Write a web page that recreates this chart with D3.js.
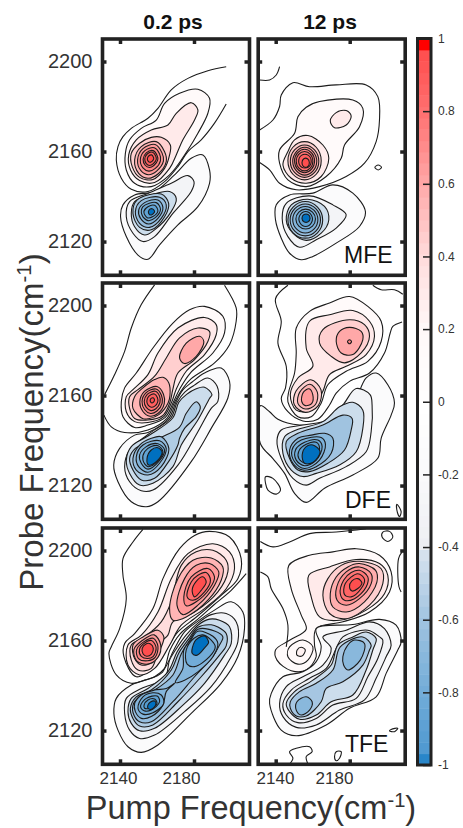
<!DOCTYPE html>
<html>
<head>
<meta charset="utf-8">
<script src="https://cdn.jsdelivr.net/npm/d3@7"></script>
<style>
html, body { margin: 0; padding: 0; background: #fff; }
svg { display: block; font-family: "Liberation Sans", Arial, sans-serif; }
</style>
</head>
<body>
<div id="chart"></div>
<script>
// contour lines.
// ring = [level, pump, probe, pump, probe, ...], wavenumbers minus 2100 cm-1
var columnTitles = ["0.2 ps", "12 ps"];
var rowNames = ["MFE", "DFE", "TFE"];
var pumpTicks = [2140, 2180];
var probeTicks = [2120, 2160, 2200];
var barTicks = [-1, -0.8, -0.6, -0.4, -0.2, 0, 0.2, 0.4, 0.6, 0.8, 1];
var colorStops = [-1, -0.971, -0.8, -0.6, -0.4, -0.39, -0.2, 0, 0.2, 0.4, 0.6, 0.8, 0.97, 0.971, 1];
var colorValues = ["#0070c0", "#4d98d0", "#72acd8", "#a0c3e0", "#dbe5f0", "#eeeff3", "#f9f9fb", "#ffffff", "#fff8f8", "#ffdcdc", "#ffa8a8", "#ff7070", "#ff4c4c", "#ff0000", "#ff0000"];

var mfeEarlyOpen = [
    [97.4,97.7,87.5,95.9,76.7,92.5,67.7,87.4,60.5,79.2,55.1,74.8,46.1,70.3,41.6,66.6,38.9,62.2,38,56.2,40.7,48.1,46.1,43.2,55.1,42.2,64.1,46.6,71.3,53.3,76.7,60,83.9,65.2,91.1,72.6,97.4,81.1]
];
var mfeEarlyRings = [
    [0.15,82.1,87.7,88.4,83.7,87.5,77,82.1,68.1,76.7,60.7,66.8,49.6,56.9,44.4,47.9,45.9,43.4,51.8,42.9,59.2,45.2,65.2,51.5,70.3,59.6,74,64.1,81.4,72.2,85.9],
    [0.3,78.5,81.7,82.1,78.5,80.3,74,74,65.2,70.4,58.5,66.8,52.5,58.7,46.2,50.6,47.1,45.7,51.8,44.7,58.5,48.8,65.2,56.9,69.6,65.9,71.8,70.4,77],
    [0.45,62.3,66.3,67.2,62.9,66.8,58.5,64.1,52.5,57.8,47.6,50.6,48.5,46.6,53.3,46.1,59.2,50.6,63.7,56.9,66.3],
    [0.55,59.6,64.4,64.1,59.9,65,55.5,60.5,50,55.1,48.1,50.1,50.3,47.9,56.2,51.5,62.2],
    [0.65,59,63.1,62.7,59.4,63.5,55.8,59.8,51.3,55.4,49.7,51.3,51.5,49.5,56.3,52.4,61.3],
    [0.72,58.5,61.7,61.4,58.9,61.9,56,59.1,52.5,55.6,51.3,52.4,52.7,51,56.5,53.3,60.3],
    [0.8,57.9,60.4,60,58.3,60.4,56.3,58.3,53.8,55.9,52.9,53.6,53.9,52.5,56.6,54.2,59.4],
    [0.88,57.6,59.7,59.3,58,59.6,56.5,57.9,54.5,56,53.8,54.2,54.6,53.4,56.7,54.7,58.9],
    [0.96,57.1,58.5,58,57.6,58.2,56.7,57.3,55.6,56.2,55.2,55.2,55.7,54.8,56.8,55.5,58],
    [-0.15,84.8,58.5,88.4,51.8,88.4,45.9,82.1,35.5,71.3,27.4,61.4,18.5,55.1,12.1,49.7,14,43.4,22.2,40.3,31,41.6,36.3,47.9,40.7,58.7,42.2,69.5,49.6,78.5,57],
    [-0.3,76.7,49.3,80,46.6,78.5,42.2,68.6,32.5,58.7,22.2,52.4,20,47,23.7,43.4,31,45.2,37.7,55.1,41.4,67.7,45.9],
    [-0.45,66.8,42.2,70.4,39.2,67.7,33.3,58.7,25.2,53.3,22.9,47.9,26.6,46.1,32.5,47.9,37.7,56.9,40.7],
    [-0.55,62.3,41.1,66.3,37,64.1,31,56.9,25.2,50.6,26.3,47,32.5,49.3,38.5],
    [-0.65,61.4,39.7,65,36.3,62.3,30.3,56,26.3,50.6,28.1,48.3,33.3,51.5,38.2],
    [-0.72,60.5,38.5,63.2,35.2,60.5,30.3,55.5,27.8,51.1,30.3,50.1,34,53.3,37.3],
    [-0.8,59.6,37.3,61.9,34.3,59.1,30.6,55.1,29.3,51.9,31.8,52.4,35.5],
    [-0.88,58.7,36.1,60.5,33.6,57.8,31.1,54.7,30.6,52.9,33.3,55.1,35.5],
    [-1,57.4,34.6,58.7,33.3,56.9,31.8,55.5,32.5,55.7,34]
];

var mfeLateOpen = [
    [31.3,91.8,36.7,91.8,40.3,94,42.1,97.7],
    [31.3,69.6,38.5,74,42.1,80,43,85.1,49.3,90.6,58.3,88.8,72.7,89.6,88.9,89.6,95.2,84.4,96.1,74,94.3,64.4,88,54.8,78.1,48.9,63.7,44.4,51.1,43,42.1,45.9,36.7,51.8,31.3,55.1]
];
var mfeLateRings = [
    [0.15,56.5,79.7,63.7,82.2,81.7,82.9,87.1,79.2,85.3,71,77.2,62.9,75.4,57,67.3,48.9,56.5,44.4,46.6,47.4,42.1,54.8,42.1,60.7,50.2,68.1,52,75.5],
    [0.3,78.1,78.2,80.8,75.8,78.1,71.8,71.8,70.6,69.5,73.7,72.7,77.3],
    [0.3,57.4,67.1,65.5,62.9,68.7,57,64.6,48.9,56.5,45.9,48.4,48.1,43.9,54,46.6,60,50.2,65.2],
    [0.45,55.6,64.4,61.9,61.9,64.6,55.9,61.9,49.9,55.6,47.4,49.3,49.9,46.6,55.9,49.3,61.9],
    [0.55,55.6,62.9,61,60.7,63.3,55.7,61,50.7,55.6,48.5,50.2,50.7,47.9,55.7,50.2,60.7],
    [0.65,55.7,61.9,60.2,60,62.2,55.7,60.2,51.4,55.7,49.5,51.2,51.4,49.2,55.7,51.2,60],
    [0.72,55.6,61,59.4,59.4,61,55.8,59.4,52.2,55.6,50.6,51.8,52.2,50.2,55.8,51.8,59.4],
    [0.8,55.6,60,58.8,58.7,60.1,55.7,58.8,52.7,55.6,51.4,52.4,52.7,51.1,55.7,52.4,58.7],
    [0.88,57.5,58.4,59.2,55.7,57.5,53,54.1,53,52.4,55.7,54.1,58.4],
    [0.96,57.2,56.8,58.2,55,57.2,53.2,55.2,53.2,54.2,55,55.2,56.8],
    [-0.15,70.9,45.2,81.7,41.5,88.5,33.3,85.3,26.7,72.7,19.3,60.1,13.4,53.8,11.9,47.5,14.8,43,21.5,39.9,29.6,40.3,36.3,47.5,40.7,60.1,41.5],
    [-0.3,58.3,40.3,70.9,36.3,78.1,31.9,72.7,26,61.9,20.8,52.9,17.5,46.6,22.2,43.5,30.4,45.7,37],
    [-0.45,57.4,38.8,66.4,35.6,68.7,29.6,64.6,23.7,56.5,20.5,49.3,23.7,45.7,29.6,48.4,36.3],
    [-0.55,56,37.8,62.6,35.3,65.4,29.6,62.6,23.9,56,21.5,49.4,23.9,46.6,29.6,49.4,35.3],
    [-0.65,56,36.7,61.7,34.6,64.2,29.6,61.7,24.6,56,22.5,50.3,24.6,47.8,29.6,50.3,34.6],
    [-0.72,56,35.6,60.8,33.8,62.8,29.7,60.8,25.6,56,23.8,51.2,25.6,49.2,29.7,51.2,33.8],
    [-0.8,56.2,34.4,59.9,33.1,61.5,30,59.9,26.9,56.2,25.6,52.5,26.9,50.9,30,52.5,33.1],
    [-0.88,58,32.9,59.9,30,58,27.1,54.4,27.1,52.5,30,54.4,32.9],
    [-1,57.5,32,58.6,30.4,57.5,28.8,55.3,28.8,54.2,30.4,55.3,32],
    [0,95.4,54,97.2,53,95.4,51.8,93.6,53]
];

var dfeEarlyOpen = [
    [58.7,109.2,51.5,100.4,46.1,90,42.5,79.6,37.1,69.3,31.7,60.4],
    [96.5,109,102.8,98.9,102.8,93,99.2,82.6,91.1,74.5,78.5,67.5,73,62,69.5,57,65.5,50,55.1,44.7,42.5,43.6,35.3,46.1,31.3,51.3]
];
var dfeEarlyRings = [
    [0.15,85.7,99.6,95.6,95.2,96.5,87.8,90.2,78.9,78,70,72,62.5,68.8,57,64.5,50.3,55.1,46.9,47.9,45.8,41.6,50.6,40.7,57.2,42.5,63.4,48.8,70,57.8,81.1,68.6,92.2,77.6,98.1],
    [0.3,85.7,94.7,92,91.5,92,87,85.7,78.2,76,71,70.5,63,67.9,57,63.5,50.5,55.1,48,47.9,48.4,43.4,52.8,43.4,59.5,47,62.6,55.1,69.3,60.5,78.9,71.3,90],
    [0.45,82.1,90,88.4,88.5,87.5,84,80.3,76,71.3,70,68.5,62.5,67,57,63,51,55,49.1,47.9,49.8,45.2,54.3,45.2,59.5,49.7,62.6,58.7,68.6,65,76.7,72.2,85.6],
    [0.6,83,86.3,85.3,84,81.2,77.4,74.9,74.2,72.2,76.7,75.8,83.3],
    [0.55,63.2,68.1,66.4,65.6,67,60,66,56.7,61,51.5,55.5,49.7,52.4,49.7,47,54.3,47.9,59.5,52.4,63.4,58.7,67.1],
    [0.65,60,64,63.5,60.6,63.9,56.3,60.5,52,56.2,50.8,52.4,52.9,50.7,57.1,53.2,61.8],
    [0.72,59.5,62.9,62.4,60.1,62.8,56.6,60,53.1,56.5,52,53.3,53.8,51.9,57.3,54,61.2],
    [0.8,59.1,61.9,61.4,59.7,61.6,56.9,59.4,54.1,56.7,53.3,54.2,54.7,53.1,57.4,54.7,60.5],
    [0.88,58.6,60.7,60.2,59.1,60.4,57.2,58.8,55.3,56.9,54.8,55.2,55.7,54.5,57.6,55.6,59.7],
    [0.96,57.9,59,58.5,58.5,58.6,57.7,58,57,57.3,56.7,56.6,57.1,56.3,57.8,56.8,58.7],
    [-0.15,94.7,72.2,99.2,66.3,98.3,58.9,89.3,45.4,78.5,30.6,60.5,12.8,54.2,10.6,46.1,12.8,38.9,21.7,36.6,29.1,39.8,36.5,47.9,42.4,55.1,43.6,66.5,50,70.2,57,74,62.5,79,66,85.7,70],
    [-0.3,87.5,67.8,92.5,64.1,92.9,57.4,89.3,54.3,82.1,43.9,71.3,29.1,57.8,18,51.5,17.7,45.2,21.7,42.5,28.4,45.2,35.8,55.1,42.7,67.5,50,70.9,57,75,61.5,80,64.5],
    [-0.45,85.7,63.7,89.7,60.4,88.4,58.7,82.1,49.1,73.1,38,68.6,28.4,57.8,21,50.6,20.2,45.2,25.4,43.4,31.3,46.1,37.3,55.1,42,68.5,50,71.8,57,76,60.5,81.2,63],
    [-0.55,81.2,57.2,83.4,55,81.2,50.6,74.9,45.4,72.2,41,71.3,38,66.8,31.3,58.7,23.2,51.5,22.5,47,26.9,45.2,32,48.3,36.5,62.3,41.5,72.2,46,75.8,52.1],
    [-0.65,62.3,41.7,66.4,36.5,62.3,28.4,55.1,24.7,48.8,26.9,47,32,50.6,38,56.9,41],
    [-0.72,61.4,39.9,65,36.5,61.4,29.9,55.1,25.9,50.1,28.4,48.8,32.8,52.4,38],
    [-0.8,60.5,38.6,64.1,35.8,60.9,30.6,55.1,27.3,51.5,29.9,50.6,33.6,54.2,37.3],
    [-0.88,60.5,37.7,63.2,35,60.1,30.6,55.1,28.4,52.4,31.3,53.3,35,56.9,37.3],
    [-1,60.5,36.8,62.8,34.7,59.6,30.6,55.5,29.1,54.6,32,56.9,35.8]
];

var dfeLateOpen = [
    [46.6,109,39.9,103,43,93,41.2,83.3,45.7,73,45.3,63.4,43,58.7,46.6,52.8,54.7,48.7,62.8,49.5,69.1,55.8,72.7,61.1,79.9,66.3,90.7,70,98.8,78.9,101.9,87.8,103.3,90.7,108.3,92.7],
    [92.5,109,97,107,104.2,107,108.7,105]
];
var dfeLateRings = [
    [0.15,79.9,104,89.8,99.6,97,93,97,84,89.8,75.2,78.1,70.8,68.2,64.8,64.6,56.7,59.2,50.6,52,50.6,46.6,57.2,47.1,61.9,50.2,70,51.1,78.9,51.1,90,58.3,97.4,69.1,101.1],
    [0.3,81.7,97.8,90.7,93,93.4,86.3,88.9,78.2,78.1,73,69.1,69.3,65.5,61.9,59.2,53.5,51.1,53.5,47.9,60.4,52,67.8,60.1,73,56.5,81.1,58.3,93,69.1,95.9],
    [0.45,79.9,93.7,88,91.5,90.7,86.3,86.2,78.9,77.2,74.5,70,77.4,63.7,83.3,65.5,89.3],
    [0.6,79.9,90.3,86.2,88.5,87.1,84.8,81.7,78.2,75.4,78.9,72.7,84.1,74.5,88.5],
    [0.72,79.9,84.8,81,83.9,79.9,83,78.8,83.9],
    [0.45,59,67,64.5,62.5,63,55.5,56,52.5,50,56,51,62],
    [0.55,58.5,65,62.5,61.5,61.5,56,56,54,52,56.5,53,61.5],
    [0.65,58,63,60,60.5,59.5,56.5,56,55.5,54,57.5,55,61.5],
    [-0.15,88.9,67.8,94.3,70,100.6,64.8,104.2,56.7,102.4,51.3,97,41,95.2,32.1,81.7,24.7,66.4,18.8,56.5,12.5,50.2,16.5,44.8,25.4,38.5,32,31.7,38.7,31.7,55.5,36.7,52.8,41.2,49.5,52.9,46.9,66.4,47.6,74.5,51.3,81.7,55.8],
    [-0.3,83.5,63.1,91,60.4,92.1,55.8,91.6,43.9,88.9,35,78.1,28.4,63.7,23.2,56.5,20.2,49.3,23.2,43,32,40.7,40.2,43,44.7,54.7,46.9,68.2,49.1,76.3,55.8],
    [-0.45,81.7,57,87.1,53.5,87.1,45.4,83.5,35,74.5,29.1,61.9,25.4,54.7,24,48.4,26.9,43.9,34.3,44.8,41.7,51.1,44.7,65.5,48.4,74.5,55],
    [-0.6,76.3,51.3,81.3,49.8,80.8,44.7,77.2,35.8,68.2,29.9,58.3,26.2,52,26.9,47.5,32,45.7,39.5,52,43.2,65.5,46.9],
    [-0.7,66.4,43.2,70.9,41,70,34.3,61.9,28.4,54.7,26.9,49.3,29.9,47.5,35.8,52,41,59.2,42.4],
    [-0.76,64.6,41.3,66.9,38.3,63.7,31.3,55.6,27.6,50.2,30.6,48.8,35.8,53.8,40.2],
    [-0.82,62.8,40.2,65.1,37.3,61.9,31.3,55.6,28.8,51.1,31.3,50.7,35.8,55.6,39.2],
    [-0.9,61.9,39.2,63.7,36.5,61,32,56.1,29.9,52.5,32,52.5,35.3,56.5,38.3],
    [-1,60.1,38,64,35,60.1,30.2,55.6,29.9,54.3,33.6,56.5,37.3],
    [0,34.5,23.9,38.5,23.2,42.6,18,40.3,16.2,35.8,18,34.5,21],
    [0,105.5,11.7,107.8,8.4,106.9,6.2,105.5,9.1]
];

var tfeEarlyOpen = [
    [52.4,109.4,47,103.8,41.6,96.4,41.6,89,43.4,78.6,39.8,65.3,35.3,57.2,34,54.3,38,44.7,46.1,41,53.3,42.4,63,46,67,55.8,72.5,63,82.1,69.5,91,76,100.1,82.3,108.2,89.7]
];
var tfeEarlyRings = [
    [0.15,88.4,108.5,99.2,106,105.5,96.4,103.7,87.5,94.7,80.1,82.1,71,71.3,63.8,65.9,57.2,59.6,49.8,48.8,43.9,42.1,52.8,42.5,58.7,47.9,63.1,57.8,74.2,63.2,87.5,72.2,100.8,80.3,106.7],
    [0.3,90.2,103,99.2,99.4,101.9,92,97.4,83,85.7,74.2,73.1,66.8,66.8,57.9,58.7,47.6,50.6,44.7,44.3,49.1,44.3,58,51.5,62.4,60.5,72.7,67.7,87.5,76.7,98.6],
    [0.4,90.2,100.1,97.4,95.7,98.3,90.5,92.9,81.6,80.3,72.7,68.6,68.3,65.9,62.4,62.3,59.4,56.9,47.6,49.7,46.9,46.1,51.3,46.1,58,53.3,61.6,62.3,68.3,67.7,77.2,73.1,93.4,81.2,99.4],
    [0.55,89.3,96.7,95.6,92.7,94.7,86.8,87.5,77.9,75.8,70.5,68.6,69,66.8,74.2,71.3,87.5,79.4,95.7],
    [0.65,88.4,94.2,93.4,90.5,91.1,84.6,82.1,75.7,74,71.5,70.8,75.7,74.9,87.5,81.2,93.4],
    [0.72,87.5,92,91.1,88.3,88.4,83,81.2,77.2,75.8,75.4,74.5,79.4,78.5,88.3],
    [0.8,86.6,90.2,88.9,86.8,85.7,81.6,79.4,77.9,76.3,79.4,78.5,86,82.1,89],
    [0.96,84.8,88.3,86.6,86,83.9,82.3,80.3,79.4,79,82.3,81.2,86.3],
    [0.55,60.5,64.6,63.7,61.6,62.3,57.2,57.8,50.6,51.5,49.1,47.9,52,47,58,52.4,61.6],
    [0.65,58.5,62.5,62,58,60.5,52.5,55,49.5,49,51,47.5,56,52,60],
    [0.72,58,61,60.5,57.5,59,52.5,55,51,50,52,49,56,53,59.5],
    [0.8,57,60,59.5,57,58,53,55,52,51.5,53,50.5,56,53.5,59],
    [0.96,56.5,58.5,58,56.5,57,54,54.5,53,52.5,54,52,56.5,54,58.5],
    [-0.15,100.1,77.2,106.4,72.7,107.3,65.3,103.7,52.8,94.7,41,78.5,27.6,60.5,13.6,51.5,10.3,44.3,12.8,38.9,20.2,36.7,27.6,38,34.3,46.1,40.2,58.7,43.9,64.1,47.6,69.1,55.8,74.9,63.8,82.1,68.6,91.1,73.5],
    [-0.3,97.4,72,102.8,68.3,103.7,59.4,100.1,52.8,89.3,39.5,74.9,28.4,58.7,18,50.6,16.5,45.2,20.2,42.5,27.6,43.4,34.3,51.5,38.7,64.1,43.2,66.8,51.3,70,55.8,75.8,62.5,82.1,67.7,89.3,71.5],
    [-0.45,93.8,69,99.2,66.1,100.1,58.6,96.5,53.5,85.7,41,74,31.3,58.7,21,50.6,19.9,46.1,23.2,44.3,28.4,46.1,34.3,55.1,38.7,65.9,46.1,70.9,55,76.5,61.5,82.1,66.8,88.4,69.5],
    [-0.55,92.9,66,97.4,63.1,97.4,57.6,93.8,53.5,83.9,43.9,71.3,32.8,57.8,22.5,50.6,22,47,25.4,45.6,29.9,48.8,35,56.9,38,67.7,46.9,71.8,54.5,77,60.5,82.1,65.9,89.3,67],
    [-0.65,91.1,64.2,95.6,61.6,93.8,58,90.2,52.8,80.3,43.9,68.6,32.8,56.9,23.9,50.6,23.9,47.5,26.9,47,31.3,50.6,35,58.7,38,68.6,44.7,73.1,54,77.5,60,82.1,65],
    [-0.72,69.9,41.3,74,47.6,74.5,55.8,78,60,82.1,64.1,90.2,61.9,92.9,58.7,90.2,52.8,82.1,46.1,74.9,42.4],
    [-0.72,69.5,41,65,37.3,63.2,31.3,56.9,26.2,51.5,25.4,48.3,28.4,47.9,32,51.5,35.8,58.7,38,65,38.7],
    [-0.8,89.3,60.2,91.5,57.2,88.4,52.8,80.3,48.4,76.3,49.5,75.8,55.8,80,61,84.8,62.5],
    [-1,85.7,62,87.9,59.1,86.2,57.2,81.7,53.5,79,54.3,80.3,59.5,82.1,61],
    [-0.8,62.3,35.8,63.6,32,57.8,27.9,52.4,27.3,49.7,29.9,52.4,35,57.8,36.8],
    [-0.88,60.1,35.3,61.4,32.8,56.9,29.1,53,28.8,51.1,30.9,54.2,34.3],
    [-0.94,58.7,34,60,32,56,29.9,53.3,29.9,53,31.3,55.1,33.6],
    [-1,58.7,33.1,59.4,31.6,56.9,29.4,55.1,29.9,55.1,31.3,56.5,32.7]
];

var tfeLateOpen = [
    [31.7,104,38.5,101.6,47.5,103.8,58.3,107.5,72.7,108.2,88.9,109.7],
    [108.3,99.4,106.4,96.4,106.6,84,107.8,81.6],
    [31.7,90.5,35.8,88.3,37.6,83,43.9,74.2,46.6,66.8,45.7,57.2],
    [47.5,5.1,49.3,7.7,47.5,10.6,51.1,12.1,58.3,12.8,59.7,10.6,56.5,8.4,57.4,5.1]
];
var tfeLateRings = [
    [0.15,83.5,100.8,96.1,97.9,102.4,90.5,101.5,81.6,90.7,72.7,76.3,68.3,61.9,65.3,61,57.9,61.9,52.8,56.5,46.9,48.4,46.6,40.7,51.3,39.9,55.8,47.5,60.1,56.5,65,53.8,71.3,48.4,83,47.1,93.4,58.3,97.9,70.9,99.4],
    [0.2,54.7,60.2,60.1,57.2,57.4,51.3,52,49.5,46.6,52.8,47.5,57.2],
    [0.25,53.8,57,56,55.8,54.2,53.1,51.5,53.5,51.6,55.8],
    [0.3,83.5,96,96.1,94.2,100.6,89,98.8,80.8,88.9,73.5,74.5,69,63.7,70.5,59.2,79.4,57.9,89,69.1,92.7],
    [0.45,85.3,95.2,97,91.9,97.9,85.3,90.7,75.7,78.1,69.7,69.1,72,65.5,80.1,68.2,87.5,75.4,93.4],
    [0.58,85.3,94.2,94,91.2,94.7,86,88,77.2,78.1,72.7,70.9,74.9,69.5,80.8,72.7,88.2,79,92.7],
    [0.68,85.3,92.7,91.6,89.7,91.6,85.3,85.3,78.6,78.1,75.7,73.2,77.9,73,83.8,78.1,90.5],
    [0.78,85.3,91.2,89.8,88.3,88.9,83.8,82.6,78.6,77.2,77.9,74.9,80.8,76.7,86.8,80.8,90.2],
    [0.85,84.4,89.7,88,87.2,86.2,83.1,80.8,79.4,77.2,80.4,77.6,85.3],
    [0.96,84.4,87.5,86.6,85.6,84.4,83.1,81.3,82,79.9,83.8,81.2,86.5],
    [-0.15,105.1,66.8,107.8,59.4,106,55.8,99.7,45.4,94.3,35,79.9,29.9,67.3,22.5,51.1,17.7,43,20.2,36.7,32,37.6,36.5,43.9,43.9,54.7,46.1,61.9,50.6,64.6,57.2,61.9,65.3,81.7,67.1,96.1,69.4],
    [-0.3,90.7,68.3,98.8,65.3,102.4,57.9,99.7,52.8,94.3,43.2,88,33.6,74.5,29.1,61.9,22.5,51.1,21.4,43.9,26.2,42.1,32,45.7,39.5,54.7,43.9,65.5,49.1,70,56.5,65.5,61.6,78.1,64.6],
    [-0.35,89.8,64.6,96.1,61.6,97.9,60.2,95.2,52,89.8,43.9,83.5,34.3,70.9,31.3,61.9,25.4,52,23.5,45.7,26.9,43.9,32,48.4,38,58.3,43.2,67.3,47.6,72.7,56.5,76.3,61.6],
    [-0.45,88.9,63.8,94.3,60.9,92.5,55.8,88.9,46.9,81.7,35.8,70,32.8,61.9,26.9,52.9,25,47.5,28.4,45.7,32,50.2,37.3,60.1,42.4,70,49.1,73.6,58,81.7,61.6],
    [-0.58,87.1,61.6,91.6,57.9,90.7,55.8,87.1,49.1,76.3,41.7,67.3,38.7,64.6,32.8,56.5,26.5,51.1,26.5,47.9,29.9,47.9,32.8,52.9,37.3,61.9,41,70.9,46.9,74.9,57.2],
    [-0.7,82.6,60.2,88,58.7,85.7,51.3,79,46.9,76.7,49.1,76.3,52.8,79,58],
    [-0.7,56.5,35,59.7,32.8,58.3,29.1,53.8,26.9,51.1,29.1,51.5,32.8],
    [0,97.9,108.2,101.5,108.5,103.3,106,100.6,104,97.5,106],
    [0,102.4,20.5,106,21,104.2,19.5,101.5,19.9],
    [0,72.7,10.6,75.4,10.6,74.5,7.7,72.7,6.6,71.8,8.4]
];

var ringSets = [mfeEarlyRings, mfeLateRings, dfeEarlyRings, dfeLateRings, tfeEarlyRings, tfeLateRings];
var openSets = [mfeEarlyOpen, mfeLateOpen, dfeEarlyOpen, dfeLateOpen, tfeEarlyOpen, tfeLateOpen];

var chart = {
    width: 463,
    height: 828,
    inkColor: "#1c1c1c",
    frameColor: "#222222",
    textColor: "#333333",
    columns: [101.5, 257.2],
    rows: [39, 283, 528],
    panelWidth: 148,
    panelHeight: 236.3,
    labelOffsets: [[118, 181], [275, 334]],
    names: [[344, 263], [345, 508], [345, 752]]
};

var color = d3.scaleLinear().domain(colorStops).range(colorValues);

var svg = d3.select("#chart")
    .append("svg")
    .attr("width", chart.width)
    .attr("height", chart.height);

var defs = svg.append("defs");

function pairs(flat) {
    var out = [];
    for (var i = 0; i + 1 < flat.length; i += 2) {
        out.push([2100 + flat[i], 2100 + flat[i + 1]]);
    }
    return out;
}

function drawPanel(index) {
    var row = Math.floor(index / 2);
    var col = index % 2;
    var left = chart.columns[col];
    var top = chart.rows[row];

    var x = d3.scaleLinear().domain([2130, 2210]).range([0, chart.panelWidth]);
    var y = d3.scaleLinear().domain([2105, 2210]).range([chart.panelHeight, 0]);

    var g = svg.append("g").attr("transform", "translate(" + left + "," + top + ")");

    defs.append("clipPath").attr("id", "clip" + index)
        .append("rect")
        .attr("width", chart.panelWidth)
        .attr("height", chart.panelHeight);

    var closed = d3.line().curve(d3.curveCatmullRomClosed.alpha(0.5))
        .x(function (d) { return x(d[0]); })
        .y(function (d) { return y(d[1]); });
    var open = d3.line().curve(d3.curveCatmullRom.alpha(0.5))
        .x(function (d) { return x(d[0]); })
        .y(function (d) { return y(d[1]); });

    var plot = g.append("g").attr("clip-path", "url(#clip" + index + ")");

    plot.selectAll("path.ring")
        .data(ringSets[index])
        .enter()
        .append("path")
        .attr("class", "ring")
        .attr("d", function (d) { return closed(pairs(d.slice(1))); })
        .attr("fill", function (d) { return color(d[0]); })
        .attr("stroke", chart.inkColor)
        .attr("stroke-width", 1.1);

    plot.selectAll("path.open")
        .data(openSets[index])
        .enter()
        .append("path")
        .attr("class", "open")
        .attr("d", function (d) { return open(pairs(d)); })
        .attr("fill", "none")
        .attr("stroke", chart.inkColor)
        .attr("stroke-width", 1.1);

    // short square ticks pointing inwards on all four sides
    function styleAxis(sel) {
        sel.select(".domain").remove();
        sel.selectAll("line").attr("stroke", chart.frameColor).attr("stroke-width", 3.5);
        sel.selectAll("text")
            .attr("fill", chart.textColor)
            .style("font-size", "20px");
    }
    g.append("g").call(d3.axisLeft(y).tickValues(probeTicks).tickSizeInner(-5).tickSizeOuter(0).tickPadding(9)
        .tickFormat(col == 0 ? d3.format("d") : "")).call(styleAxis);
    g.append("g").attr("transform", "translate(" + chart.panelWidth + ",0)")
        .call(d3.axisRight(y).tickValues(probeTicks).tickSizeInner(-5).tickSizeOuter(0).tickFormat("")).call(styleAxis);
    g.append("g").call(d3.axisTop(x).tickValues(pumpTicks).tickSizeInner(-5).tickSizeOuter(0).tickFormat("")).call(styleAxis);
    g.append("g").attr("transform", "translate(0," + chart.panelHeight + ")")
        .call(d3.axisBottom(x).tickValues(pumpTicks).tickSizeInner(-5).tickSizeOuter(0).tickFormat("")).call(styleAxis);

    g.append("rect")
        .attr("x", 1)
        .attr("y", 0)
        .attr("width", chart.panelWidth - 1)
        .attr("height", chart.panelHeight)
        .attr("fill", "none")
        .attr("stroke", chart.frameColor)
        .attr("stroke-width", 3.6);

    if (col == 1) {
        svg.append("text")
            .attr("x", chart.names[row][0])
            .attr("y", chart.names[row][1])
            .attr("fill", "#111")
            .style("font-size", "23px")
            .text(rowNames[row]);
    }

    // the pump labels sit left of their ticks in the original
    if (row == 2) {
        var labelX = d3.scaleLinear().domain(pumpTicks).range(chart.labelOffsets[col]);
        var labels = svg.append("g")
            .attr("transform", "translate(0," + (top + chart.panelHeight) + ")")
            .call(d3.axisBottom(labelX).tickValues(pumpTicks).tickSize(0).tickPadding(8).tickFormat(d3.format("d")));
        labels.select(".domain").remove();
        labels.selectAll("text").attr("fill", chart.textColor).style("font-size", "17px");
    }
}

d3.range(6).forEach(drawPanel);

columnTitles.forEach(function (t, i) {
    svg.append("text")
        .attr("x", [173, 330][i])
        .attr("y", 29)
        .attr("text-anchor", "middle")
        .attr("fill", "#111")
        .style("font-size", "21px")
        .style("font-weight", "bold")
        .text(t);
});

function axisTitle(text, transform, size) {
    var t = svg.append("text")
        .attr("transform", transform)
        .attr("text-anchor", "middle")
        .attr("fill", chart.textColor)
        .style("font-size", size + "px");
    t.append("tspan").text(text + "(cm");
    t.append("tspan").attr("dy", -size * 0.36).style("font-size", size * 0.62 + "px").text("-1");
    t.append("tspan").attr("dy", size * 0.36).text(")");
}
axisTitle("Pump Frequency", "translate(251,819)", 32.5);
axisTitle("Probe Frequency", "translate(43,422) rotate(-90)", 33);

// colorbar
var barY = d3.scaleLinear().domain([-1, 1]).range([765, 38.5]);
var barCells = d3.range(64);
var bar = svg.append("g");
bar.selectAll("rect")
    .data(barCells)
    .enter()
    .append("rect")
    .attr("x", 417.5)
    .attr("width", 13.5)
    .attr("y", function (d) { return barY(-1 + (d + 1) / 32); })
    .attr("height", function (d) { return barY(-1 + d / 32) - barY(-1 + (d + 1) / 32) + 0.5; })
    .attr("fill", function (d) { return color(-1 + (d + 0.5) / 32); });
var barAxis = svg.append("g")
    .attr("transform", "translate(431,0)")
    .call(d3.axisRight(barY).tickValues(barTicks).tickSizeInner(-8).tickSizeOuter(0).tickPadding(7)
        .tickFormat(function (d) { return String(d); }));
barAxis.select(".domain").remove();
barAxis.selectAll("line").attr("stroke", chart.frameColor).attr("stroke-width", 1.5);
barAxis.selectAll("text").attr("fill", chart.textColor).style("font-size", "12px");
svg.append("rect")
    .attr("x", 417.5)
    .attr("y", barY(1))
    .attr("width", 13.5)
    .attr("height", barY(-1) - barY(1))
    .attr("fill", "none")
    .attr("stroke", chart.frameColor)
    .attr("stroke-width", 3);
</script>
</body>
</html>
